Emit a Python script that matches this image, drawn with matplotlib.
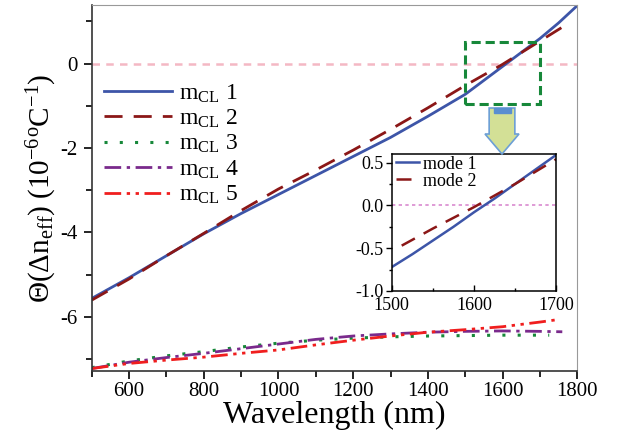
import matplotlib
matplotlib.use("Agg")
import matplotlib.pyplot as plt
from matplotlib.patches import Rectangle, FancyArrow
from matplotlib.ticker import MultipleLocator

plt.rcParams['font.family'] = ['Liberation Serif', 'DejaVu Serif']
plt.rcParams['mathtext.fontset'] = 'custom'
plt.rcParams['mathtext.rm'] = 'Liberation Serif'
plt.rcParams['mathtext.it'] = 'Liberation Serif:italic'
plt.rcParams['mathtext.bf'] = 'Liberation Serif:bold'

# ---- data ----
wl_m1 = [500, 600, 700, 800, 900, 1000, 1100, 1200, 1300, 1400, 1500, 1550, 1600, 1650, 1700, 1750, 1800]
m1 = [-5.56, -5.07, -4.55, -4.03, -3.55, -3.10, -2.65, -2.20, -1.75, -1.25, -0.73, -0.40, -0.07, 0.26, 0.59, 0.96, 1.37]

wl_m2 = [500, 600, 700, 800, 900, 1000, 1100, 1200, 1300, 1400, 1500, 1600, 1700, 1780]
m2 = [-5.60, -5.10, -4.55, -4.02, -3.48, -2.97, -2.52, -2.05, -1.56, -1.05, -0.52, -0.02, 0.53, 0.97]

wl_m3 = [500, 600, 700, 800, 900, 1000, 1100, 1200, 1300, 1400, 1500, 1600, 1725]
m3 = [-7.20, -7.04, -6.92, -6.82, -6.71, -6.62, -6.55, -6.50, -6.47, -6.45, -6.44, -6.43, -6.43]

wl_m4 = [500, 600, 700, 800, 900, 1000, 1100, 1200, 1300, 1400, 1500, 1600, 1700, 1760]
m4 = [-7.22, -7.07, -6.96, -6.86, -6.75, -6.64, -6.53, -6.45, -6.40, -6.36, -6.34, -6.33, -6.34, -6.35]

wl_m5 = [500, 600, 700, 800, 900, 1000, 1100, 1200, 1300, 1400, 1500, 1600, 1700, 1750]
m5 = [-7.22, -7.10, -7.02, -6.95, -6.86, -6.78, -6.66, -6.55, -6.45, -6.36, -6.30, -6.23, -6.12, -6.06]

labels_main = ['1', '2', '3', '4', '5']

# inset (zoomed region)
wl_in1 = [1500, 1525, 1550, 1575, 1600, 1625, 1650, 1675, 1700]
in1 = [-0.72, -0.57, -0.41, -0.25, -0.08, 0.08, 0.25, 0.42, 0.59]
wl_in2 = [1512, 1550, 1600, 1650, 1700]
in2 = [-0.47, -0.27, -0.02, 0.25, 0.54]
labels_inset = ['mode 1', 'mode 2']

c_blue = '#3d55a8'
c_dred = '#8b1717'
c_green = '#17883a'
c_purple = '#7a2a8c'
c_red = '#f01e1e'

fig = plt.figure(figsize=(6.2, 4.34), dpi=100)
ax = fig.add_axes([0.148, 0.145, 0.783, 0.843])

ax.axhline(0, color='#f4b8c4', lw=1.8, ls=(0, (3, 2.5)), zorder=1)

ax.plot(wl_m1, m1, color=c_blue, lw=2, ls='-', label=r'$\mathregular{m_{CL}}$ ' + labels_main[0])
ax.plot(wl_m2, m2, color=c_dred, lw=2, ls=(0, (6.5, 4)), label=r'$\mathregular{m_{CL}}$ ' + labels_main[1])
ax.plot(wl_m3, m3, color=c_green, lw=2.2, ls=(0, (1, 4)), label=r'$\mathregular{m_{CL}}$ ' + labels_main[2])
ax.plot(wl_m4, m4, color=c_purple, lw=2, ls=(0, (6, 2, 1.2, 2)), label=r'$\mathregular{m_{CL}}$ ' + labels_main[3])
ax.plot(wl_m5, m5, color=c_red, lw=2, ls=(0, (6, 2, 1.2, 2, 1.2, 2)), label=r'$\mathregular{m_{CL}}$ ' + labels_main[4])

ax.set_xlim(500, 1800)
ax.set_ylim(-7.28, 1.38)
ax.xaxis.set_major_locator(MultipleLocator(200))
ax.xaxis.set_minor_locator(MultipleLocator(100))
ax.yaxis.set_major_locator(MultipleLocator(2))
ax.yaxis.set_minor_locator(MultipleLocator(1))
ax.tick_params(axis='both', which='major', direction='out', length=6, width=1.2, labelsize=15)
ax.tick_params(axis='both', which='minor', direction='out', length=4, width=1.2)
ax.tick_params(axis='y', pad=4)
ax.tick_params(axis='x', pad=2)
ax.set_yticks([-6, -4, -2, 0])
ax.set_yticklabels(['-6', '-4', '-2', '0'])
for s in ['top', 'right']:
    ax.spines[s].set_color('#999999')
for s in ['left', 'bottom']:
    ax.spines[s].set_color('#333333')
    ax.spines[s].set_linewidth(1.2)

ax.set_xlabel('Wavelength (nm)', fontsize=23, labelpad=0)
ax.set_ylabel(r'$\Theta(\Delta \mathrm{n}_{\mathrm{eff}})\ (10^{-6}{}^{\mathrm{o}}\mathrm{C}^{-1})$', fontsize=21, labelpad=1)

leg = ax.legend(loc='upper left', bbox_to_anchor=(0.005, 0.815), frameon=False, fontsize=17,
                handlelength=2.9, handletextpad=0.3, labelspacing=0.13, borderaxespad=0)

# green dashed box
ax.add_patch(Rectangle((1500, -0.97), 200, 1.47, fill=False, ec=c_green, lw=2.2,
                       ls=(0, (3, 1.6)), zorder=4))

# arrow (figure coords)
fig.patches.append(FancyArrow(502 / 620, 1 - 108 / 434, 0, -46 / 434, width=18 / 434,
                              head_width=34 / 620, head_length=20 / 434, length_includes_head=True,
                              transform=fig.transFigure, fc='#d3e096', ec='#6c9fd6', lw=1.2, figure=fig))
fig.patches.append(Rectangle((493.5 / 620, 1 - 113 / 434), 17 / 620, 5 / 434, transform=fig.transFigure,
                             fc='#5a8ed0', ec='#5a8ed0', figure=fig))

# inset
axi = fig.add_axes([0.632, 0.3295, 0.265, 0.3155])
axi.axhline(0, color='#d98ad0', lw=1.2, ls=(0, (2, 2)), zorder=1)
axi.plot(wl_in1, in1, color=c_blue, lw=1.8, label=labels_inset[0])
axi.plot(wl_in2, in2, color=c_dred, lw=1.8, ls=(0, (6, 4)), label=labels_inset[1])
axi.set_xlim(1500, 1700)
axi.set_ylim(-1.0, 0.6)
axi.xaxis.set_major_locator(MultipleLocator(100))
axi.xaxis.set_minor_locator(MultipleLocator(50))
axi.yaxis.set_major_locator(MultipleLocator(0.5))
axi.yaxis.set_minor_locator(MultipleLocator(0.25))
axi.set_yticks([-1.0, -0.5, 0.0, 0.5])
axi.set_yticklabels(['-1.0', '-0.5', '0.0', '0.5'])
axi.tick_params(axis='both', which='major', direction='in', length=4, width=1, labelsize=13, pad=2)
axi.tick_params(axis='x', which='major', pad=4)
axi.tick_params(axis='both', which='minor', direction='in', length=2.5, width=1)
axi.tick_params(axis='y', which='both', direction='out')
for s in axi.spines.values():
    s.set_linewidth(1.1)
axi.legend(loc='upper left', bbox_to_anchor=(-0.02, 1.04), frameon=False, fontsize=13,
           handlelength=1.3, handletextpad=0.2, labelspacing=0.0, borderaxespad=0)

fig.savefig('out.png', dpi=100)
